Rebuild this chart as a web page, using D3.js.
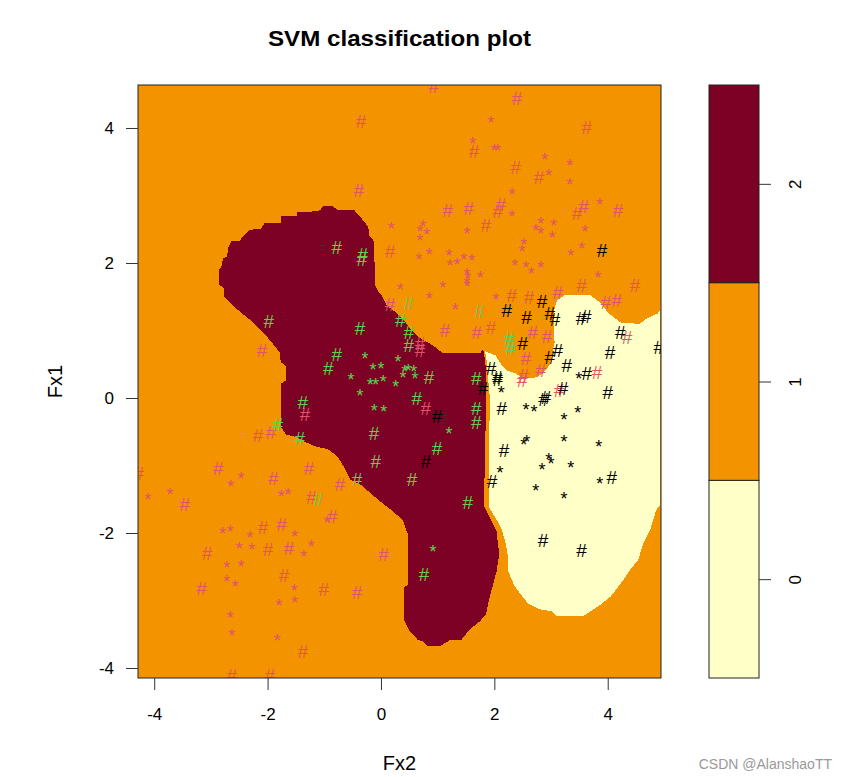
<!DOCTYPE html>
<html>
  <head>
    <meta charset="utf-8">
    <title>SVM classification plot</title>
    <script src="https://cdn.jsdelivr.net/npm/d3@7"></script>
    <style>
      body { margin: 0; background: #fff; }
      svg { display: block; font-family: "Liberation Sans", Arial, sans-serif; }
      .axis text { font-size: 17px; fill: #000; }
      .axis line { stroke: #333; }
      .axis path { display: none; }
    </style>
  </head>
  <body>
    <svg id="chart" width="846" height="777"></svg>
    <script>
      // classes, colours
      const classes = ["0", "1", "2"];
      const regionColors = ["#FFFFC8", "#F39300", "#7D0025"];
      const pointColors = ["#000000", "#DF536B", "#61D04F"];
      const xTicks = [-4, -2, 0, 2, 4];
      const yTicks = [-4, -2, 0, 2, 4];

      // decision regions (Fx2, Fx1) - class 1 is the background
      const region2Outline = [
        [-2.87, 1.67], [-2.87, 1.90], [-2.82, 1.96], [-2.80, 2.07], [-2.73, 2.10], [-2.70, 2.25],
        [-2.65, 2.33], [-2.50, 2.34], [-2.42, 2.42], [-2.33, 2.50], [-2.12, 2.52], [-2.06, 2.61],
        [-1.78, 2.61], [-1.78, 2.70], [-1.50, 2.71], [-1.50, 2.77], [-1.25, 2.77], [-1.08, 2.79],
        [-1.02, 2.86], [-0.85, 2.86], [-0.76, 2.79], [-0.46, 2.79], [-0.37, 2.70], [-0.28, 2.62],
        [-0.21, 2.53], [-0.19, 2.40], [-0.11, 2.33], [-0.09, 1.67], [-0.05, 1.60], [0.02, 1.53],
        [0.11, 1.38], [0.28, 1.27], [0.42, 1.16], [0.51, 1.04], [0.69, 0.90], [0.92, 0.79],
        [1.09, 0.68], [1.75, 0.68], [1.80, 0.74], [1.87, 0.68], [1.87, -0.03], [1.85, -0.77],
        [1.83, -1.59], [1.96, -1.81], [2.05, -1.96], [2.10, -2.31], [2.05, -2.58], [1.92, -2.99],
        [1.87, -3.20], [1.75, -3.32], [1.57, -3.44], [1.43, -3.59], [1.22, -3.60], [1.04, -3.69],
        [0.83, -3.69], [0.74, -3.62], [0.64, -3.59], [0.48, -3.44], [0.39, -3.29], [0.39, -2.80],
        [0.46, -2.76], [0.46, -2.02], [0.37, -1.81], [0.16, -1.66], [-0.02, -1.54], [-0.19, -1.42],
        [-0.37, -1.29], [-0.55, -1.22], [-0.67, -1.02], [-0.78, -0.87], [-0.94, -0.77], [-1.15, -0.73],
        [-1.32, -0.67], [-1.50, -0.59], [-1.68, -0.55], [-1.78, -0.43], [-1.78, 0.22], [-1.68, 0.27],
        [-1.69, 0.46], [-1.78, 0.53], [-1.80, 0.67], [-1.91, 0.79], [-2.08, 0.96], [-2.26, 1.11],
        [-2.38, 1.19], [-2.61, 1.35], [-2.79, 1.50], [-2.79, 1.63]
      ];
      const region0Outline = [
        [1.82, 0.71], [1.91, 0.68], [2.03, 0.64], [2.12, 0.52], [2.22, 0.42], [2.40, 0.37],
        [2.49, 0.30], [2.70, 0.31], [2.84, 0.37], [2.96, 0.49], [3.00, 0.64], [3.05, 0.82],
        [3.03, 1.16], [3.05, 1.33], [3.09, 1.45], [3.23, 1.53], [3.70, 1.53], [3.88, 1.42],
        [4.02, 1.27], [4.23, 1.13], [4.55, 1.11], [4.69, 1.19], [4.87, 1.26], [4.94, 1.33],
        [4.94, -1.59], [4.87, -1.66], [4.76, -1.96], [4.64, -2.16], [4.55, -2.40], [4.41, -2.55],
        [4.29, -2.70], [4.06, -2.95], [3.88, -3.07], [3.76, -3.14], [3.58, -3.24], [3.09, -3.24],
        [3.00, -3.17], [2.79, -3.14], [2.58, -3.05], [2.35, -2.80], [2.22, -2.55], [2.22, -2.31],
        [2.19, -2.16], [2.12, -1.96], [2.03, -1.81], [1.89, -1.62], [1.89, -0.77], [1.91, -0.03],
        [1.85, 0.56]
      ];

      // observations (Fx2, Fx1); "#" = support vector, "*" = other point
      const class1Hash = [
        [0.93, 4.62], [-0.35, 4.10], [1.64, 3.66], [-0.39, 3.08], [1.18, 2.79], [1.55, 2.81],
        [1.85, 2.56], [0.16, 2.18], [2.40, 4.44], [3.63, 4.01], [2.38, 3.42], [2.79, 3.27],
        [2.12, 2.87], [2.06, 2.77], [3.58, 2.84], [3.46, 2.74], [4.18, 2.79], [3.54, 1.67],
        [4.48, 1.67], [-2.10, 0.71], [-1.34, -0.24], [-1.94, -0.50], [-2.17, -0.55], [-2.87, -1.04],
        [-1.90, -1.19], [-1.27, -1.04], [-4.27, -1.11], [0.16, 1.39], [0.69, 0.81], [0.69, 0.71],
        [1.13, 1.01], [1.69, 0.98], [1.94, 1.05], [0.79, -0.15], [-0.72, -1.27], [2.31, 1.53],
        [2.61, 1.50], [3.12, 1.57], [3.97, 1.42], [4.16, 1.45], [4.34, 0.90], [2.68, 0.98],
        [2.93, 0.92], [2.56, 0.59], [2.82, 0.41], [2.52, 0.34], [2.49, 0.27], [3.81, 0.39],
        [3.14, 0.12], [-3.46, -1.57], [-1.23, -1.47], [-2.08, -1.91], [-1.75, -1.87], [-3.07, -2.30],
        [-1.99, -2.24], [-1.62, -2.22], [-1.71, -2.62], [-3.16, -2.81], [-1.38, -3.75], [-2.63, -4.10],
        [-1.96, -4.10], [-0.86, -1.75], [0.05, -2.31], [-1.01, -2.83], [-0.42, -2.87]
      ];
      const class1Star = [
        [1.62, 3.84], [1.94, 4.15], [0.18, 2.58], [0.74, 2.61], [0.69, 2.53], [0.81, 2.49],
        [0.69, 2.40], [1.52, 2.50], [0.67, 2.12], [0.85, 2.19], [1.20, 2.18], [1.46, 2.12],
        [1.60, 2.10], [1.22, 2.03], [1.34, 2.04], [1.52, 1.90], [1.53, 1.84], [1.52, 1.76],
        [1.75, 1.85], [1.09, 1.70], [0.34, 1.67], [2.00, 3.73], [2.06, 3.73], [2.89, 3.60],
        [3.33, 3.51], [2.96, 3.36], [3.33, 3.23], [2.31, 3.08], [2.31, 2.76], [3.86, 2.93],
        [2.82, 2.65], [3.05, 2.62], [2.73, 2.55], [2.82, 2.50], [3.02, 2.44], [3.60, 2.53],
        [2.52, 2.34], [2.49, 2.24], [3.54, 2.28], [3.35, 2.18], [2.36, 2.03], [2.56, 1.99],
        [2.65, 1.91], [2.82, 2.00], [3.83, 1.85], [0.85, 1.54], [1.31, 1.38], [1.52, 1.72],
        [2.03, 1.53], [-2.47, -1.13], [-2.65, -1.24], [-4.11, -1.44], [-3.72, -1.36], [-1.76, -1.39],
        [-1.64, -1.36], [-2.79, -1.94], [-2.66, -1.91], [-2.31, -2.00], [-1.52, -1.99], [-1.23, -2.13],
        [-2.50, -2.16], [-2.28, -2.18], [-1.36, -2.28], [-2.72, -2.44], [-2.47, -2.43], [-2.72, -2.65],
        [-2.57, -2.73], [-1.53, -2.79], [-1.80, -3.01], [-1.52, -2.96], [-2.66, -3.19], [-2.63, -3.45],
        [-1.83, -3.53], [-0.95, -1.78]
      ];
      const class2Hash = [
        [-0.78, 2.24], [-0.32, 2.13], [-0.34, 2.06], [-1.98, 1.14], [-1.38, -0.06], [-1.82, -0.39],
        [-1.43, -0.59], [0.48, 1.41], [1.73, 1.29], [0.34, 1.16], [0.49, 0.98], [0.49, 0.79],
        [-0.37, 1.04], [-0.78, 0.65], [-0.93, 0.44], [0.85, 0.31], [0.63, 0.00], [-0.12, -0.52],
        [0.99, -0.74], [-0.09, -0.93], [-0.42, -1.20], [0.55, -1.20], [1.68, 0.30], [1.68, -0.15],
        [1.68, -0.36], [2.26, 0.89], [2.28, 0.74], [-1.11, -1.50], [1.53, -1.54], [0.76, -2.61]
      ];
      const class2Star = [
        [-0.28, 0.65], [-0.14, 0.49], [0.00, 0.50], [-0.53, 0.34], [-0.19, 0.27], [-0.09, 0.27],
        [0.04, 0.31], [0.26, 0.24], [0.30, 0.61], [0.42, 0.46], [0.48, 0.47], [0.58, 0.46],
        [0.39, 0.37], [0.60, 0.36], [-0.37, 0.10], [-0.12, -0.12], [0.05, -0.13], [1.20, -0.46],
        [0.92, -2.21]
      ];
      const class0Hash = [
        [3.90, 2.19], [0.99, -0.27], [0.79, -0.93], [1.80, 0.15], [2.84, 1.44], [2.22, 1.30],
        [2.57, 1.20], [2.98, 1.26], [3.07, 1.17], [3.53, 1.19], [3.62, 1.21], [4.22, 0.98],
        [2.50, 0.81], [3.12, 0.71], [2.98, 0.61], [4.04, 0.68], [4.90, 0.76], [3.28, 0.49],
        [1.94, 0.44], [2.05, 0.31], [2.06, 0.28], [3.63, 0.37], [3.21, 0.15], [4.00, 0.09],
        [2.87, -0.01], [2.91, 0.01], [2.13, -0.15], [2.17, -0.77], [4.07, -1.17], [1.96, -1.23],
        [2.86, -2.10], [3.54, -2.25]
      ];
      const class0Star = [
        [3.49, 0.36], [2.12, 0.15], [2.56, -0.10], [2.70, -0.13], [3.47, -0.15], [3.23, -0.25],
        [3.23, -0.58], [2.52, -0.62], [2.57, -0.58], [3.84, -0.65], [2.96, -0.84], [3.00, -0.90],
        [2.84, -0.99], [3.35, -0.96], [2.10, -1.04], [3.86, -1.20], [2.73, -1.30], [3.23, -1.42]
      ];

      // page elements
      const plot = { left: 138, top: 85, right: 661, bottom: 678 };
      const svg = d3.select("#chart");

      const x = d3.scaleLinear().domain([-4.286, 4.94]).range([plot.left, plot.right]);
      const y = d3.scaleLinear().domain([-4.148, 4.637]).range([plot.bottom, plot.top]);
      const fill = d3.scaleOrdinal().domain(classes).range(regionColors);
      const ink = d3.scaleOrdinal().domain(classes).range(pointColors);
      const plain = d => String(d); // hyphen minus like R

      svg.append("clipPath").attr("id", "plotClip")
        .append("rect")
          .attr("x", plot.left).attr("y", plot.top)
          .attr("width", plot.right - plot.left).attr("height", plot.bottom - plot.top);

      const chartGroup = svg.append("g").attr("clip-path", "url(#plotClip)");

      // background = class 1
      chartGroup.append("rect")
        .attr("x", plot.left).attr("y", plot.top)
        .attr("width", plot.right - plot.left).attr("height", plot.bottom - plot.top)
        .attr("fill", fill("1"));

      const line = d3.line().x(d => x(d[0])).y(d => y(d[1])).curve(d3.curveLinearClosed);
      [["2", region2Outline], ["0", region0Outline]].forEach(function(r) {
        chartGroup.append("path")
          .attr("d", line(r[1]))
          .attr("fill", fill(r[0]))
          .attr("stroke", fill("1"))
          .attr("stroke-width", 1.5)
          .attr("shape-rendering", "crispEdges");
      });

      // points
      const pointSets = [
        ["1", "#", class1Hash], ["1", "*", class1Star],
        ["2", "#", class2Hash], ["2", "*", class2Star],
        ["0", "#", class0Hash], ["0", "*", class0Star]
      ];
      pointSets.forEach(function(s) {
        chartGroup.append("g")
          .selectAll("text")
          .data(s[2])
          .join("text")
            .attr("x", d => x(d[0]))
            .attr("y", d => y(d[1]))
            .attr("dy", s[1] == "#" ? "0.36em" : "0.6em")
            .attr("text-anchor", "middle")
            .attr("font-size", s[1] == "#" ? 19 : 18)
            .attr("fill", ink(s[0]))
            .text(s[1]);
      });

      // frame
      svg.append("rect")
        .attr("x", plot.left).attr("y", plot.top)
        .attr("width", plot.right - plot.left).attr("height", plot.bottom - plot.top)
        .attr("fill", "none").attr("stroke", "#222").attr("stroke-width", 1);

      // axes
      svg.append("g")
        .attr("class", "axis")
        .attr("transform", "translate(0," + plot.bottom + ")")
        .call(d3.axisBottom(x).tickValues(xTicks).tickFormat(plain).tickSize(12).tickPadding(18));
      svg.append("g")
        .attr("class", "axis")
        .attr("transform", "translate(" + plot.left + ",0)")
        .call(d3.axisLeft(y).tickValues(yTicks).tickFormat(plain).tickSize(12).tickPadding(12));

      // legend
      const legend = { left: 709, right: 759 };
      const yLegend = d3.scaleLinear().domain([-0.5, 2.5]).range([plot.bottom, plot.top]);
      svg.append("g")
        .selectAll("rect")
        .data(classes)
        .join("rect")
          .attr("x", legend.left)
          .attr("y", d => yLegend(+d + 0.5))
          .attr("width", legend.right - legend.left)
          .attr("height", d => yLegend(+d - 0.5) - yLegend(+d + 0.5))
          .attr("fill", d => fill(d))
          .attr("stroke", "#222")
          .attr("stroke-width", 1);
      const legendAxis = svg.append("g")
        .attr("class", "axis")
        .attr("transform", "translate(" + legend.right + ",0)")
        .call(d3.axisRight(yLegend).tickValues(classes.map(Number)).tickFormat(plain).tickSize(12).tickPadding(0));
      legendAxis.selectAll("text")
        .attr("x", 0).attr("dy", 0)
        .attr("text-anchor", "middle")
        .attr("transform", "translate(36,0) rotate(-90) translate(0,6)");

      // titles
      svg.append("text")
        .attr("x", (plot.left + plot.right) / 2).attr("y", 46)
        .attr("text-anchor", "middle")
        .attr("font-weight", "bold").attr("font-size", 22)
        .attr("textLength", 263).attr("lengthAdjust", "spacingAndGlyphs")
        .text("SVM classification plot");
      svg.append("text")
        .attr("x", (plot.left + plot.right) / 2).attr("y", 770)
        .attr("text-anchor", "middle").attr("font-size", 20)
        .text("Fx2");
      svg.append("text")
        .attr("transform", "translate(62," + ((plot.top + plot.bottom) / 2) + ") rotate(-90)")
        .attr("text-anchor", "middle").attr("font-size", 20)
        .text("Fx1");
      svg.append("text")
        .attr("x", 832).attr("y", 769)
        .attr("text-anchor", "end").attr("font-size", 14).attr("fill", "#999")
        .text("CSDN @AlanshaoTT");
    </script>
  </body>
</html>
